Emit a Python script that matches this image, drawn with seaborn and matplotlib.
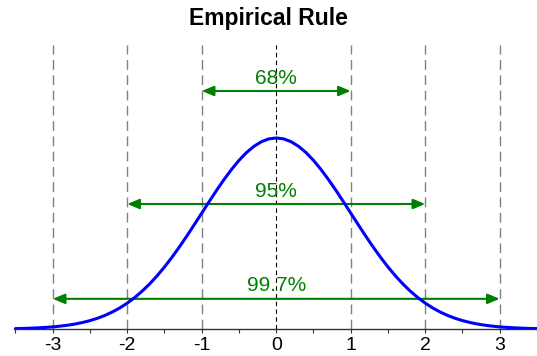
import matplotlib
matplotlib.use("Agg")
import matplotlib.pyplot as plt
from matplotlib.ticker import MultipleLocator
import seaborn as sns
import pandas as pd

# curve values (density at each z)
z = [-3.5, -3.4, -3.3, -3.2, -3.1, -3.0, -2.9, -2.8, -2.7, -2.6, -2.5, -2.4, -2.3, -2.2, -2.1,
     -2.0, -1.9, -1.8, -1.7, -1.6, -1.5, -1.4, -1.3, -1.2, -1.1, -1.0, -0.9, -0.8, -0.7, -0.6,
     -0.5, -0.4, -0.3, -0.2, -0.1, 0.0, 0.1, 0.2, 0.3, 0.4, 0.5, 0.6, 0.7, 0.8, 0.9,
     1.0, 1.1, 1.2, 1.3, 1.4, 1.5, 1.6, 1.7, 1.8, 1.9, 2.0, 2.1, 2.2, 2.3, 2.4,
     2.5, 2.6, 2.7, 2.8, 2.9, 3.0, 3.1, 3.2, 3.3, 3.4, 3.5]
density = [0.0009, 0.0012, 0.0017, 0.0024, 0.0033, 0.0044, 0.0060, 0.0079, 0.0104, 0.0136,
           0.0175, 0.0224, 0.0283, 0.0355, 0.0440, 0.0540, 0.0656, 0.0790, 0.0940, 0.1109,
           0.1295, 0.1497, 0.1714, 0.1942, 0.2179, 0.2420, 0.2661, 0.2897, 0.3123, 0.3332,
           0.3521, 0.3683, 0.3814, 0.3910, 0.3970, 0.3989, 0.3970, 0.3910, 0.3814, 0.3683,
           0.3521, 0.3332, 0.3123, 0.2897, 0.2661, 0.2420, 0.2179, 0.1942, 0.1714, 0.1497,
           0.1295, 0.1109, 0.0940, 0.0790, 0.0656, 0.0540, 0.0440, 0.0355, 0.0283, 0.0224,
           0.0175, 0.0136, 0.0104, 0.0079, 0.0060, 0.0044, 0.0033, 0.0024, 0.0017, 0.0012,
           0.0009]

sd_lines = [-3, -2, -1, 0, 1, 2, 3]
spans = [1, 2, 3]
span_labels = ["68%", "95%", "99.7%"]
span_heights = [0.497, 0.261, 0.063]

sns.set_style("white")
plt.rcParams['font.family'] = ['Liberation Sans', 'DejaVu Sans']
plt.rcParams['axes.unicode_minus'] = False
plt.rcParams['text.color'] = 'black'
plt.rcParams['xtick.color'] = 'black'

fig = plt.figure(figsize=(5.37, 3.56), dpi=100)
ax = fig.add_axes([14 / 537, 27 / 356, 523 / 537, 284 / 356])

df = pd.DataFrame({"z": z, "density": density})
sns.lineplot(data=df, x="z", y="density", color="#0000ff", linewidth=2.2, ax=ax, zorder=3)

for s in sd_lines:
    if s == 0:
        ax.axvline(s, color="black", linewidth=0.8, linestyle=(0, (4, 3)), zorder=1)
    else:
        ax.axvline(s, color="#808080", linewidth=1.0, linestyle=(0, (7, 4)), zorder=1)

for k, lab, h in zip(spans, span_labels, span_heights):
    ax.annotate("", xy=(k, h), xytext=(-k, h),
                arrowprops=dict(arrowstyle="<|-|>,head_length=0.6,head_width=0.25",
                                color="#008000", lw=1.5,
                                mutation_scale=12, shrinkA=0, shrinkB=0),
                zorder=2)
    ax.text(0, h + 0.007, lab, ha="center", va="bottom", color="#008000", fontsize=15)

ax.set_xlim(-3.52, 3.5)
ax.set_ylim(0, 0.593)
ax.set_xticks(sd_lines)
ax.xaxis.set_minor_locator(MultipleLocator(0.5))
ax.tick_params(axis="x", which="both", bottom=True, length=3, width=0.8, color="#333333",
               labelsize=14, pad=3)
ax.set_yticks([])
ax.set_xlabel("")
ax.set_ylabel("")
for side in ["top", "right", "left"]:
    ax.spines[side].set_visible(False)
ax.spines["bottom"].set_color("#333333")
ax.spines["bottom"].set_linewidth(1.0)

fig.text(0.5, 1 - 18 / 356, "Empirical Rule", ha="center", va="center",
         fontsize=16.5, fontweight="bold")

fig.savefig("out.png", dpi=100)
